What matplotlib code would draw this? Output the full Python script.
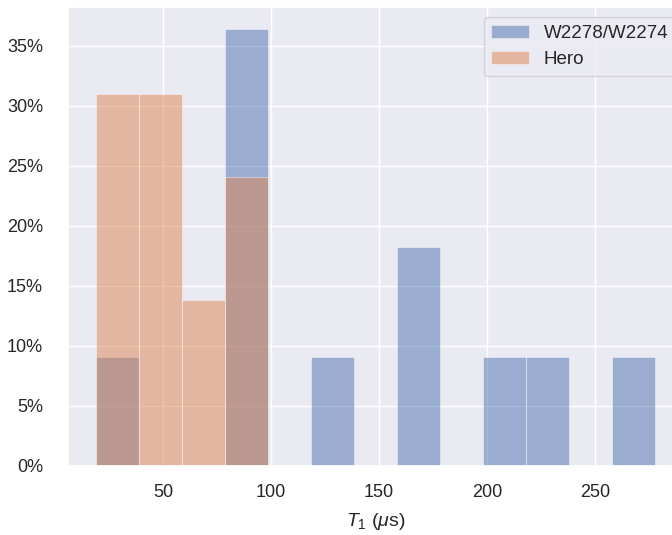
import numpy as np
import matplotlib
matplotlib.use("Agg")
import matplotlib.pyplot as plt
import seaborn as sns
from matplotlib.ticker import FuncFormatter

# ---- data ----
bin_edges = [19.0, 38.9, 58.8, 78.8, 98.7, 118.6, 138.5, 158.4, 178.3,
             198.2, 218.2, 238.1, 258.0, 277.9]
w2278_pct = [9.1, 0, 0, 36.4, 0, 9.1, 0, 18.2, 0, 9.1, 9.1, 0, 9.1]
hero_pct = [31.0, 31.0, 13.8, 24.1, 0, 0, 0, 0, 0, 0, 0, 0, 0]
series_labels = ["W2278/W2274", "Hero"]
x_ticks = [50, 100, 150, 200, 250]
y_ticks = [0, 5, 10, 15, 20, 25, 30, 35]

sns.set_theme(style="darkgrid")
plt.rcParams["font.family"] = ["Liberation Sans", "DejaVu Sans"]
plt.rcParams["mathtext.fontset"] = "custom"
plt.rcParams["mathtext.rm"] = "Liberation Sans"
plt.rcParams["mathtext.it"] = "Liberation Sans:italic"

pal = sns.color_palette("deep")
fig = plt.figure(figsize=(6.72, 5.35), dpi=100)
ax = fig.add_axes([68 / 672, (535 - 466) / 535, (683 - 68) / 672, (466 - 7) / 535])

edges = np.array(bin_edges)
lefts = edges[:-1]
widths = np.diff(edges)
ax.bar(lefts, w2278_pct, width=widths, align="edge", color=pal[0], alpha=0.5,
       edgecolor="white", linewidth=0.6, label=series_labels[0])
ax.bar(lefts, hero_pct, width=widths, align="edge", color=pal[1], alpha=0.5,
       edgecolor="white", linewidth=0.6, label=series_labels[1])

span = edges[-1] - edges[0]
ax.set_xlim(edges[0] - 0.05 * span, edges[-1] + 0.05 * span)
ax.set_ylim(0, max(w2278_pct) * 1.05)
ax.set_xticks(x_ticks)
ax.set_yticks(y_ticks)
ax.yaxis.set_major_formatter(FuncFormatter(lambda v, p: f"{v:.0f}%"))
ax.tick_params(axis="both", labelsize=13, colors="#262626")
ax.tick_params(axis="y", pad=12)
ax.tick_params(axis="x", pad=7)
ax.set_xlabel(r"$T_1$ ($\mu$s)", fontsize=14, color="#262626", labelpad=7)

leg = ax.legend(loc="upper right", fontsize=13.5, frameon=True,
                handlelength=2.0, bbox_to_anchor=(1.004, 0.998))

fig.savefig("out.png", dpi=100)
